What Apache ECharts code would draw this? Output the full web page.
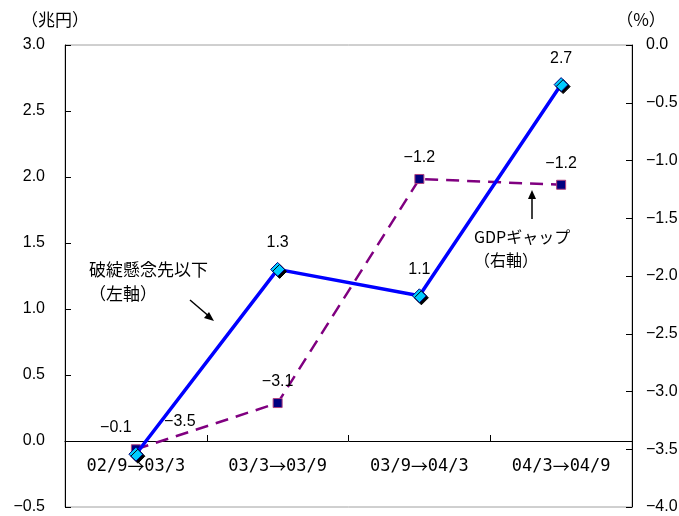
<!DOCTYPE html>
<html>
<head>
<meta charset="utf-8">
<script src="https://cdn.jsdelivr.net/npm/echarts@6/dist/echarts.min.js"></script>
<style>
  html, body { margin: 0; padding: 0; background: #fff; }
  #chart { width: 679px; height: 516px; }
</style>
</head>
<body>
<div id="chart"></div>
<script>
  // 期間
  var categories = ['02/9→03/3', '03/3→03/9', '03/9→04/3', '04/3→04/9'];
  // 破綻懸念先以下（左軸, 兆円）
  var npl = [-0.1, 1.3, 1.1, 2.7];
  // GDPギャップ（右軸, %）
  var gdpGap = [-3.5, -3.1, -1.16, -1.21];

  var JP = '"Noto Sans CJK JP", sans-serif';
  var NUM = '"Liberation Sans", Arial, sans-serif';
  var MONO = '"DejaVu Sans Mono", monospace';

  var leftMin = -0.5, leftMax = 3.0;
  var gridTop = 45, gridBottom = 9, chartH = 516;
  // x軸を左軸の0の位置に置く
  var zeroOffset = -Math.round((0 - leftMin) / (leftMax - leftMin) * (chartH - gridTop - gridBottom));

  function fmt(v) {
    return Number(v).toFixed(1).replace('-', '−');
  }

  var myChart = echarts.init(document.getElementById('chart'));

  var option = {
    animation: false,
    textStyle: { fontFamily: NUM },
    grid: {
      left: 65, right: 47, top: gridTop, bottom: gridBottom,
      outerBoundsMode: 'none',
      containLabel: false,
      show: true,
      borderColor: '#a0a0a0',
      borderWidth: 1
    },
    xAxis: {
      type: 'category',
      data: categories,
      boundaryGap: true,
      position: 'bottom',
      offset: zeroOffset,
      axisLine: { onZero: false, lineStyle: { color: '#000', width: 1 } },
      axisTick: { show: true, inside: true, length: 6, interval: 0, lineStyle: { color: '#000' } },
      axisLabel: {
        color: '#000', margin: 17, interval: 0, hideOverlap: false,
        formatter: function (v) {
          var s = v.split('→');
          return '{d|' + s[0] + '}{a|→}{d|' + s[1] + '}';
        },
        rich: {
          d: { fontFamily: MONO, fontSize: 17, color: '#000' },
          a: { fontFamily: JP, fontSize: 17, color: '#000' }
        }
      },
      splitLine: { show: false }
    },
    yAxis: [
      {
        type: 'value',
        min: leftMin, max: leftMax, interval: 0.5,
        position: 'left',
        name: '（兆円）',
        nameLocation: 'end',
        nameGap: 17,
        nameTextStyle: { color: '#000', fontSize: 17, fontFamily: JP, align: 'center', padding: [0, 0, 0, -20] },
        axisLine: { show: true, lineStyle: { color: '#000' } },
        axisTick: { show: true, inside: true, length: 6, lineStyle: { color: '#000' } },
        axisLabel: { color: '#000', fontSize: 16, margin: 20, formatter: fmt },
        splitLine: { show: false }
      },
      {
        type: 'value',
        min: -4.0, max: 0.0, interval: 0.5,
        position: 'right',
        name: '（%）',
        nameLocation: 'end',
        nameGap: 17,
        nameTextStyle: { color: '#000', fontSize: 17, fontFamily: JP, align: 'center', padding: [0, 0, 0, 18] },
        axisLine: { show: true, lineStyle: { color: '#000' } },
        axisTick: { show: true, inside: true, length: 6, lineStyle: { color: '#000' } },
        axisLabel: { color: '#000', fontSize: 16, margin: 14, formatter: fmt },
        splitLine: { show: false }
      }
    ],
    series: [
      {
        name: 'GDPギャップ（右軸）',
        type: 'line',
        yAxisIndex: 1,
        z: 2,
        symbol: 'rect',
        symbolSize: 9,
        lineStyle: { color: '#800080', width: 2.5, type: [13, 8] },
        itemStyle: { color: '#000080', borderColor: '#b04080', borderWidth: 1 },
        label: {
          show: true,
          color: '#000',
          fontSize: 16,
          formatter: function (p) { return fmt(p.value); }
        },
        labelLayout: function (p) {
          if (p.dataIndex === 0) {
            return { dx: 44, dy: -10 };
          }
          return { dy: -3 };
        },
        data: gdpGap
      },
      {
        name: '破綻懸念先以下（左軸）',
        type: 'line',
        yAxisIndex: 0,
        z: 3,
        symbol: 'diamond',
        symbolSize: 14,
        lineStyle: { color: '#0000ff', width: 3.5 },
        itemStyle: {
          color: '#00ccff',
          borderColor: '#000080',
          borderWidth: 1,
          shadowColor: '#000',
          shadowOffsetX: 2,
          shadowOffsetY: 2,
          shadowBlur: 0
        },
        label: {
          show: true,
          color: '#000',
          fontSize: 16,
          formatter: function (p) { return fmt(p.value); }
        },
        labelLayout: function (p) {
          if (p.dataIndex === 0) {
            return { dx: -20, dy: -6 };
          }
          return { dy: -6 };
        },
        data: npl
      }
    ],
    graphic: [
      {
        type: 'text', left: 89, top: 258,
        style: { text: '破綻懸念先以下\n（左軸）', fill: '#000', font: '17px ' + JP, lineHeight: 24 }
      },
      {
        type: 'line',
        shape: { x1: 190, y1: 300, x2: 211, y2: 318 },
        style: { stroke: '#000', lineWidth: 1.5 }
      },
      {
        type: 'polygon',
        shape: { points: [[214, 321], [204, 318], [209, 312]] },
        style: { fill: '#000' }
      },
      {
        type: 'text', left: 474, top: 225,
        style: { text: 'GDPギャップ\n（右軸）', fill: '#000', font: '16px ' + JP, lineHeight: 23 }
      },
      {
        type: 'line',
        shape: { x1: 532, y1: 219, x2: 532, y2: 196 },
        style: { stroke: '#000', lineWidth: 1.5 }
      },
      {
        type: 'polygon',
        shape: { points: [[532, 190], [528, 199], [536, 199]] },
        style: { fill: '#000' }
      }
    ]
  };

  myChart.setOption(option);
</script>
</body>
</html>
